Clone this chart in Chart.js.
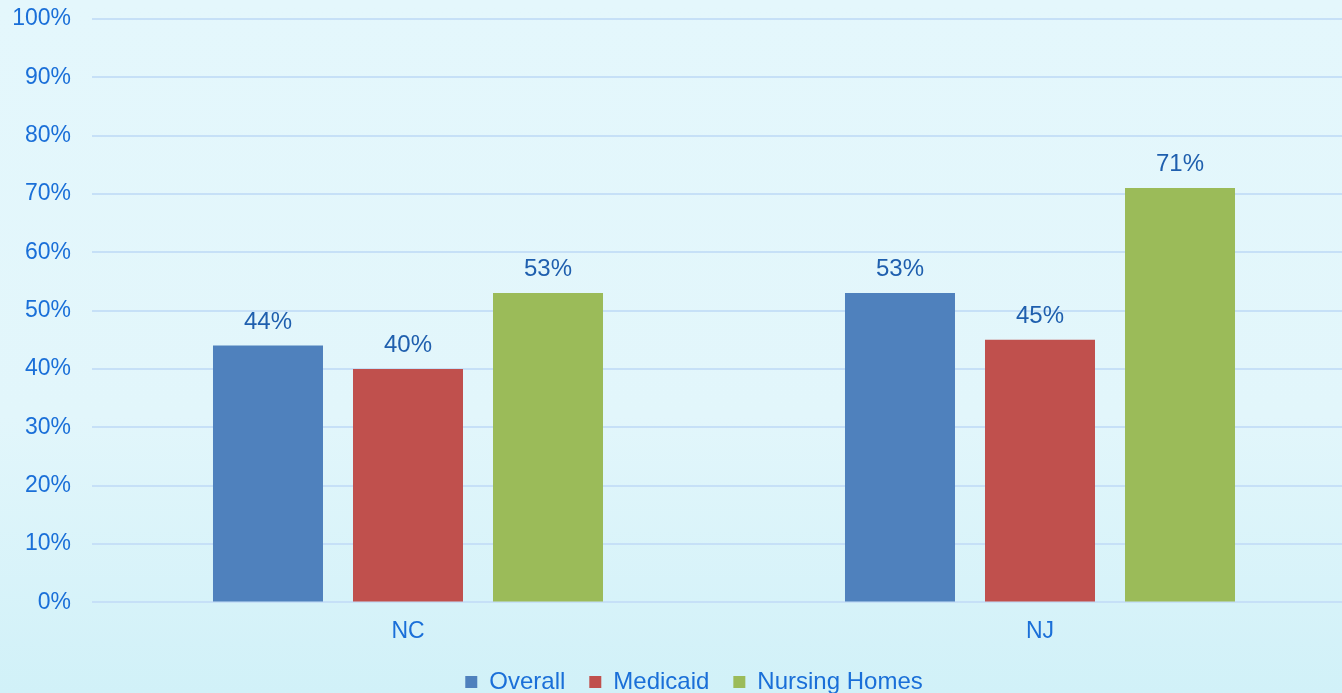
<!DOCTYPE html>
<html>
<head>
<meta charset="utf-8">
<script src="https://cdn.jsdelivr.net/npm/chart.js@4"></script>
<style>
  html, body { margin: 0; padding: 0; overflow: hidden; }
  body {
    width: 1342px;
    height: 693px;
    background: linear-gradient(to bottom, #e4f7fc 0%, #e2f6fb 60%, #d1f1f8 100%);
  }
  #wrap { width: 1356px; height: 709px; margin-top: -16px; }
</style>
</head>
<body>
<div id="wrap"><canvas id="chart" width="1356" height="709"></canvas></div>
<script>
// Data
const states = ["NC", "NJ"]
const seriesNames = ["Overall", "Medicaid", "Nursing Homes"]
const overall = [44, 53]
const medicaid = [40, 45]
const nursingHomes = [53, 71]
const yTicks = [0, 10, 20, 30, 40, 50, 60, 70, 80, 90, 100]

const colors = ["#4f81bd", "#c0504d", "#9bbb59"]
const fontFamily = "Arial, 'Liberation Sans', sans-serif"

// Draw the value labels above each bar
const barLabels = {
  id: "barLabels",
  afterDatasetsDraw(chart) {
    const ctx = chart.ctx
    ctx.save()
    ctx.font = "24px " + fontFamily
    ctx.fillStyle = "#1f5fae"
    ctx.textAlign = "center"
    ctx.textBaseline = "alphabetic"
    chart.data.datasets.forEach((ds, i) => {
      const meta = chart.getDatasetMeta(i)
      meta.data.forEach((bar, j) => {
        ctx.fillText(ds.data[j] + "%", bar.x, bar.y - 17)
      })
    })
    ctx.restore()
  },
}

// Legend sits a little right of the canvas centre
const legendShift = {
  id: "legendShift",
  afterLayout(chart) {
    if (chart.legend) chart.legend.left += 32
  },
}

const ctx = document.getElementById("chart").getContext("2d")
new Chart(ctx, {
  type: "bar",
  data: {
    labels: states,
    datasets: [
      { label: seriesNames[0], data: overall, backgroundColor: colors[0] },
      { label: seriesNames[1], data: medicaid, backgroundColor: colors[1] },
      { label: seriesNames[2], data: nursingHomes, backgroundColor: colors[2] },
    ],
  },
  options: {
    responsive: false,
    animation: false,
    categoryPercentage: 0.6646,
    barPercentage: 0.7857,
    layout: {
      padding: { top: 0, left: 0, right: 0, bottom: -11 },
    },
    plugins: {
      tooltip: { enabled: false },
      legend: {
        position: "bottom",
        labels: {
          color: "#1a6fd8",
          font: { size: 24, family: fontFamily },
          boxWidth: 12,
          boxHeight: 12,
          padding: 24,
        },
      },
    },
    scales: {
      x: {
        grid: { display: false },
        border: { display: false },
        afterFit: (axis) => {
          axis.height -= 6
        },
        ticks: {
          color: "#1a6fd8",
          font: { size: 23, family: fontFamily },
          padding: 7,
        },
      },
      y: {
        min: 0,
        max: 100,
        afterBuildTicks: (axis) => {
          axis.ticks = yTicks.map((v) => ({ value: v }))
        },
        afterFit: (axis) => {
          axis.width = 92
        },
        grid: { color: "#c6e0f7", lineWidth: 2, drawTicks: false },
        border: { display: false },
        ticks: {
          color: "#1a6fd8",
          font: { size: 23, family: fontFamily },
          padding: 21,
          callback: (v) => v + "%",
        },
      },
    },
  },
  plugins: [barLabels, legendShift],
})
</script>
</body>
</html>
